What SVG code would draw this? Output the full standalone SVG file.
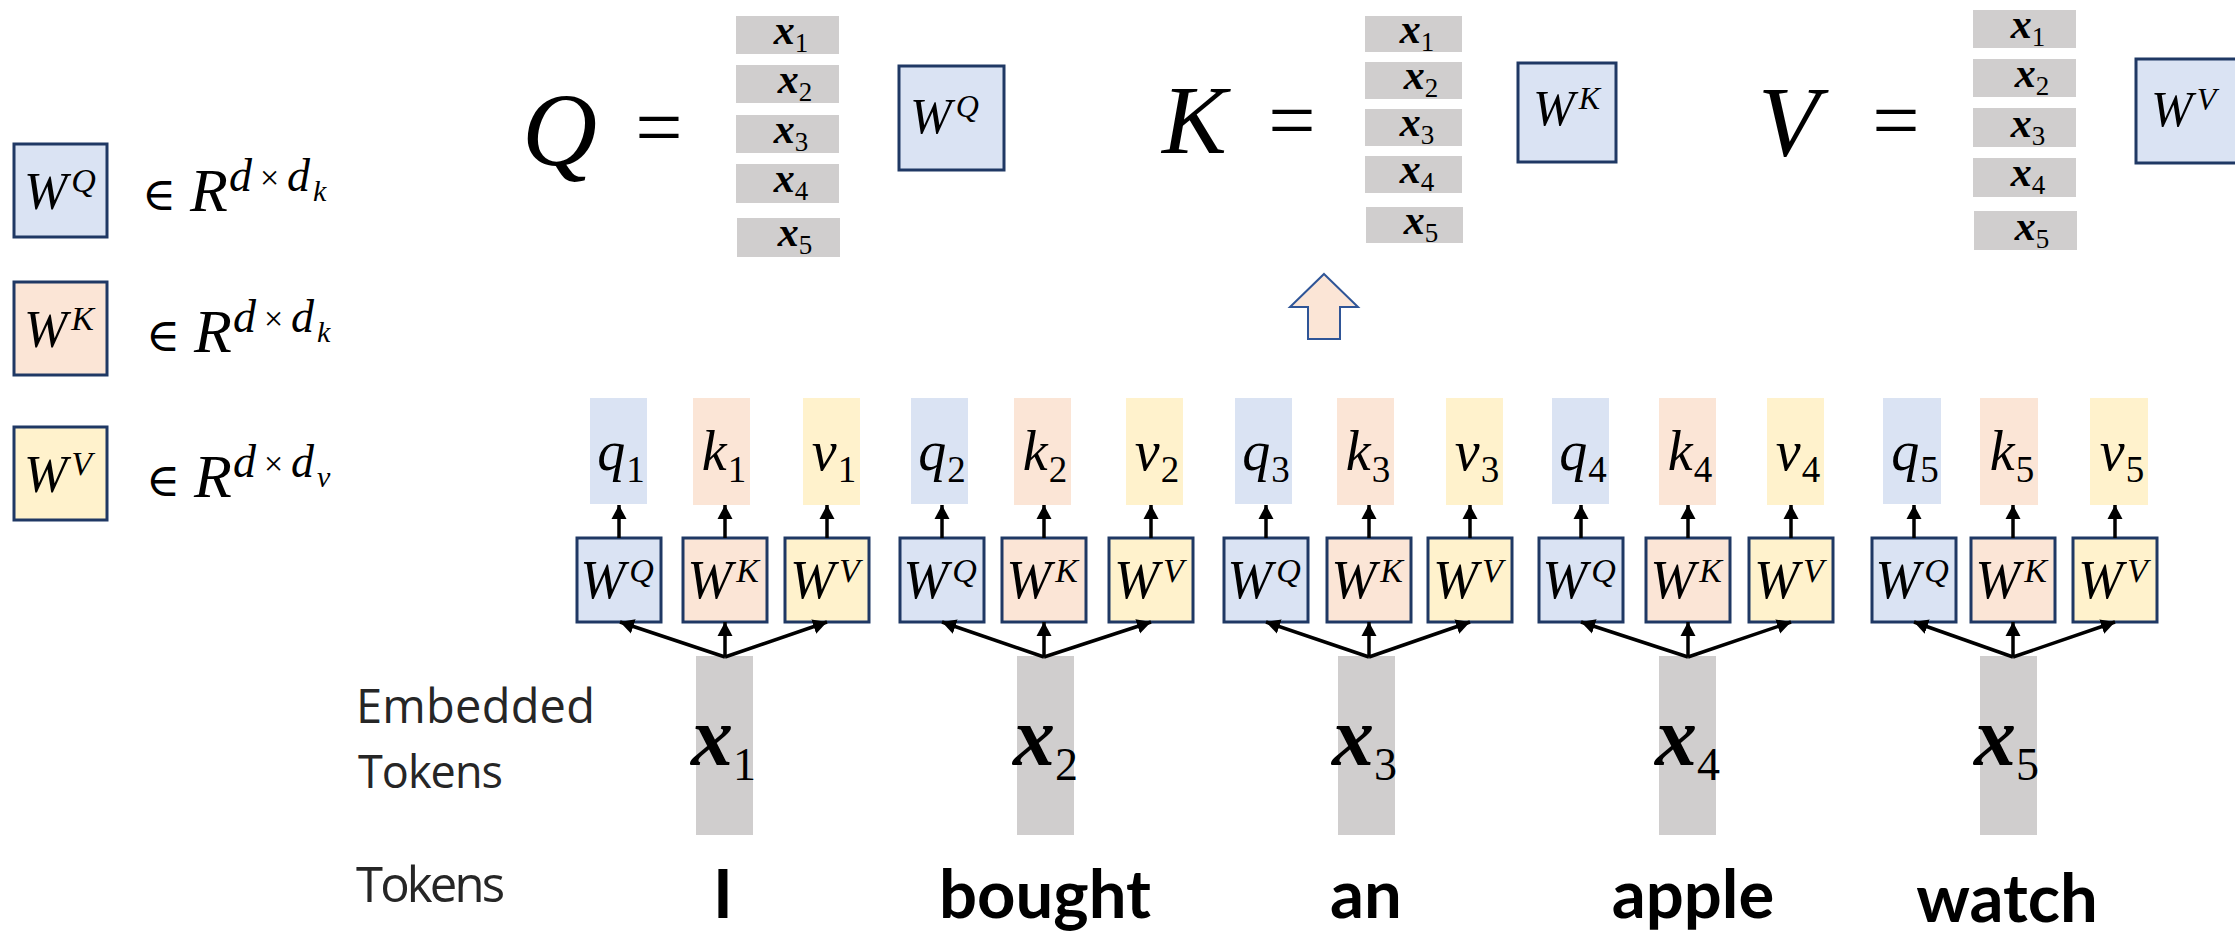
<svg xmlns="http://www.w3.org/2000/svg" width="2235" height="932" viewBox="0 0 2235 932">
<style>
.bq{fill:#DAE3F3}.bk{fill:#FBE5D6}.bv{fill:#FFF2CC}
.wb{stroke:#1F3864;stroke-width:3}
.gr{fill:#D0CECE}
.m{font-family:"Liberation Serif","DejaVu Serif",serif;font-style:italic;fill:#000}
.up{font-style:normal}
.xb{font-family:"Liberation Serif","DejaVu Serif",serif;font-style:italic;font-weight:bold;fill:#000}
.dg{font-family:"Liberation Serif","DejaVu Serif",serif;font-style:normal;font-weight:normal}
.lbl{font-family:"Open Sans","Liberation Sans",sans-serif;fill:#262626}
.tok{font-family:Lato,"Open Sans",sans-serif;font-weight:bold;fill:#000;font-size:67px;text-anchor:middle}
.sw{font-size:54px}.ss{font-size:34px}
.qkv{font-size:56px}.qs{font-size:37px}
.xs{font-size:42px}.xss{font-size:27px}
.cn{stroke:#000;stroke-width:3.5;fill:none;marker-end:url(#ah)}
</style>
<defs>
<marker id="ah" markerUnits="userSpaceOnUse" markerWidth="16" markerHeight="16" refX="14" refY="8" orient="auto"><path d="M0,0.5 L14,8 L0,15.5 z" fill="#000"/></marker>
</defs>
<rect width="2235" height="932" fill="#fff"/>

<!-- Legend -->
<g id="legend-wq">
<rect x="14" y="144" width="93" height="93" class="bq wb"/>
<text x="24" y="209" class="m" font-size="52">W<tspan font-size="34" dx="4" dy="-17">Q</tspan></text>
<text x="142" y="210" class="m up" font-size="46">∈</text>
<text x="190" y="211" class="m" font-size="62">R</text>
<text x="229" y="191" class="m" font-size="46">d</text><text x="260" y="189" class="m up" font-size="34">×</text><text x="287" y="191" class="m" font-size="46">d</text>
<text x="313" y="201" class="m" font-size="30">k</text>
</g>
<g id="legend-wk">
<rect x="14" y="282" width="93" height="93" class="bk wb"/>
<text x="24" y="347" class="m" font-size="52">W<tspan font-size="34" dx="4" dy="-17">K</tspan></text>
<text x="146" y="351" class="m up" font-size="46">∈</text>
<text x="194" y="352" class="m" font-size="62">R</text>
<text x="233" y="332" class="m" font-size="46">d</text><text x="264" y="330" class="m up" font-size="34">×</text><text x="291" y="332" class="m" font-size="46">d</text>
<text x="317" y="342" class="m" font-size="30">k</text>
</g>
<g id="legend-wv">
<rect x="14" y="427" width="93" height="93" class="bv wb"/>
<text x="24" y="492" class="m" font-size="52">W<tspan font-size="34" dx="4" dy="-17">V</tspan></text>
<text x="146" y="496" class="m up" font-size="46">∈</text>
<text x="194" y="497" class="m" font-size="62">R</text>
<text x="233" y="477" class="m" font-size="46">d</text><text x="264" y="475" class="m up" font-size="34">×</text><text x="291" y="477" class="m" font-size="46">d</text>
<text x="317" y="487" class="m" font-size="30">v</text>
</g>

<!-- Q equation -->
<g id="eq-q">
<text x="522" y="165" class="m" font-size="104">Q</text>
<text x="659" y="156" class="m up" font-size="84" text-anchor="middle">=</text>
<rect x="736" y="16" width="103" height="38" class="gr"/>
<rect x="736" y="65" width="103" height="38" class="gr"/>
<rect x="736" y="115" width="103" height="38" class="gr"/>
<rect x="736" y="164" width="103" height="39" class="gr"/>
<rect x="737" y="218" width="103" height="39" class="gr"/>
<text x="791" y="44" class="xb xs" text-anchor="middle">x<tspan class="dg xss" dy="8">1</tspan></text>
<text x="795" y="93" class="xb xs" text-anchor="middle">x<tspan class="dg xss" dy="8">2</tspan></text>
<text x="791" y="143" class="xb xs" text-anchor="middle">x<tspan class="dg xss" dy="8">3</tspan></text>
<text x="791" y="192" class="xb xs" text-anchor="middle">x<tspan class="dg xss" dy="8">4</tspan></text>
<text x="795" y="246" class="xb xs" text-anchor="middle">x<tspan class="dg xss" dy="8">5</tspan></text>
<rect x="899" y="66" width="105" height="104" class="bq wb"/>
<text x="910" y="133" class="m" font-size="50">W<tspan font-size="32" dx="4" dy="-16">Q</tspan></text>
</g>

<!-- K equation -->
<g id="eq-k">
<text x="1162" y="153" class="m" font-size="97">K</text>
<text x="1292" y="149" class="m up" font-size="84" text-anchor="middle">=</text>
<rect x="1365" y="16" width="97" height="36" class="gr"/>
<rect x="1365" y="62" width="97" height="37" class="gr"/>
<rect x="1365" y="109" width="97" height="37" class="gr"/>
<rect x="1365" y="156" width="97" height="37" class="gr"/>
<rect x="1366" y="207" width="97" height="36" class="gr"/>
<text x="1417" y="43" class="xb xs" text-anchor="middle">x<tspan class="dg xss" dy="8">1</tspan></text>
<text x="1421" y="89" class="xb xs" text-anchor="middle">x<tspan class="dg xss" dy="8">2</tspan></text>
<text x="1417" y="136" class="xb xs" text-anchor="middle">x<tspan class="dg xss" dy="8">3</tspan></text>
<text x="1417" y="183" class="xb xs" text-anchor="middle">x<tspan class="dg xss" dy="8">4</tspan></text>
<text x="1421" y="234" class="xb xs" text-anchor="middle">x<tspan class="dg xss" dy="8">5</tspan></text>
<rect x="1518" y="63" width="98" height="99" class="bq wb"/>
<text x="1533" y="125" class="m" font-size="50">W<tspan font-size="32" dx="4" dy="-16">K</tspan></text>
</g>

<!-- V equation -->
<g id="eq-v">
<text x="1758" y="155" class="m" font-size="100">V</text>
<text x="1896" y="149" class="m up" font-size="84" text-anchor="middle">=</text>
<rect x="1973" y="10" width="103" height="38" class="gr"/>
<rect x="1973" y="59" width="103" height="38" class="gr"/>
<rect x="1973" y="108" width="103" height="39" class="gr"/>
<rect x="1973" y="158" width="103" height="39" class="gr"/>
<rect x="1974" y="211" width="103" height="39" class="gr"/>
<text x="2028" y="38" class="xb xs" text-anchor="middle">x<tspan class="dg xss" dy="8">1</tspan></text>
<text x="2032" y="87" class="xb xs" text-anchor="middle">x<tspan class="dg xss" dy="8">2</tspan></text>
<text x="2028" y="137" class="xb xs" text-anchor="middle">x<tspan class="dg xss" dy="8">3</tspan></text>
<text x="2028" y="186" class="xb xs" text-anchor="middle">x<tspan class="dg xss" dy="8">4</tspan></text>
<text x="2032" y="240" class="xb xs" text-anchor="middle">x<tspan class="dg xss" dy="8">5</tspan></text>
<rect x="2136" y="59" width="120" height="104" class="bq wb"/>
<text x="2151" y="126" class="m" font-size="50">W<tspan font-size="32" dx="4" dy="-16">V</tspan></text>
</g>

<g id="up-arrow">
<path d="M1324,274 L1358,307 L1340,307 L1340,339 L1308,339 L1308,307 L1290,307 Z" fill="#FBE5D6" stroke="#2F5597" stroke-width="2"/>
</g>

<!-- Left labels -->
<g id="label-embedded">
<text x="356" y="723" class="lbl" font-size="47" textLength="239" lengthAdjust="spacing">Embedded</text>
<text x="358" y="788" class="lbl" font-size="45" textLength="145" lengthAdjust="spacing">Tokens</text>
</g>
<g id="label-tokens">
<text x="356" y="902" class="lbl" font-size="49" textLength="149" lengthAdjust="spacing">Tokens</text>
</g>

<!-- Group 1 -->
<g id="g1">
<rect x="590" y="398" width="57" height="106" class="bq"/>
<rect x="693" y="398" width="57" height="107" class="bk"/>
<rect x="803" y="398" width="57" height="107" class="bv"/>
<text x="621" y="470" class="m qkv" text-anchor="middle">q<tspan class="dg qs" dx="1" dy="12">1</tspan></text>
<text x="724" y="470" class="m qkv" text-anchor="middle">k<tspan class="dg qs" dx="1" dy="12">1</tspan></text>
<text x="834" y="470" class="m qkv" text-anchor="middle">v<tspan class="dg qs" dx="1" dy="12">1</tspan></text>
<rect x="577" y="538" width="84" height="84" class="bq wb"/>
<rect x="683" y="538" width="84" height="84" class="bk wb"/>
<rect x="785" y="538" width="84" height="84" class="bv wb"/>
<text x="617" y="598" class="m sw" text-anchor="middle">W<tspan class="ss" dx="4" dy="-16">Q</tspan></text>
<text x="723" y="598" class="m sw" text-anchor="middle">W<tspan class="ss" dx="4" dy="-16">K</tspan></text>
<text x="825" y="598" class="m sw" text-anchor="middle">W<tspan class="ss" dx="4" dy="-16">V</tspan></text>
<rect x="696" y="656" width="57" height="179" class="gr"/>
<text x="691" y="765" class="xb" font-size="84">x<tspan class="dg" font-size="46" dy="15">1</tspan></text>
<text x="723" y="918" class="tok">I</text>
</g>

<!-- Group 2 -->
<g id="g2">
<rect x="911" y="398" width="57" height="106" class="bq"/>
<rect x="1014" y="398" width="57" height="107" class="bk"/>
<rect x="1126" y="398" width="57" height="107" class="bv"/>
<text x="942" y="470" class="m qkv" text-anchor="middle">q<tspan class="dg qs" dx="1" dy="12">2</tspan></text>
<text x="1045" y="470" class="m qkv" text-anchor="middle">k<tspan class="dg qs" dx="1" dy="12">2</tspan></text>
<text x="1157" y="470" class="m qkv" text-anchor="middle">v<tspan class="dg qs" dx="1" dy="12">2</tspan></text>
<rect x="900" y="538" width="84" height="84" class="bq wb"/>
<rect x="1002" y="538" width="84" height="84" class="bk wb"/>
<rect x="1109" y="538" width="84" height="84" class="bv wb"/>
<text x="940" y="598" class="m sw" text-anchor="middle">W<tspan class="ss" dx="4" dy="-16">Q</tspan></text>
<text x="1042" y="598" class="m sw" text-anchor="middle">W<tspan class="ss" dx="4" dy="-16">K</tspan></text>
<text x="1149" y="598" class="m sw" text-anchor="middle">W<tspan class="ss" dx="4" dy="-16">V</tspan></text>
<rect x="1017" y="656" width="57" height="179" class="gr"/>
<text x="1013" y="765" class="xb" font-size="84">x<tspan class="dg" font-size="46" dy="15">2</tspan></text>
<text x="1045" y="918" class="tok">bought</text>
</g>

<!-- Group 3 -->
<g id="g3">
<rect x="1235" y="398" width="57" height="106" class="bq"/>
<rect x="1337" y="398" width="57" height="107" class="bk"/>
<rect x="1446" y="398" width="57" height="107" class="bv"/>
<text x="1266" y="470" class="m qkv" text-anchor="middle">q<tspan class="dg qs" dx="1" dy="12">3</tspan></text>
<text x="1368" y="470" class="m qkv" text-anchor="middle">k<tspan class="dg qs" dx="1" dy="12">3</tspan></text>
<text x="1477" y="470" class="m qkv" text-anchor="middle">v<tspan class="dg qs" dx="1" dy="12">3</tspan></text>
<rect x="1224" y="538" width="84" height="84" class="bq wb"/>
<rect x="1327" y="538" width="84" height="84" class="bk wb"/>
<rect x="1428" y="538" width="84" height="84" class="bv wb"/>
<text x="1264" y="598" class="m sw" text-anchor="middle">W<tspan class="ss" dx="4" dy="-16">Q</tspan></text>
<text x="1367" y="598" class="m sw" text-anchor="middle">W<tspan class="ss" dx="4" dy="-16">K</tspan></text>
<text x="1468" y="598" class="m sw" text-anchor="middle">W<tspan class="ss" dx="4" dy="-16">V</tspan></text>
<rect x="1338" y="656" width="57" height="179" class="gr"/>
<text x="1332" y="765" class="xb" font-size="84">x<tspan class="dg" font-size="46" dy="15">3</tspan></text>
<text x="1366" y="918" class="tok">an</text>
</g>

<!-- Group 4 -->
<g id="g4">
<rect x="1552" y="398" width="57" height="106" class="bq"/>
<rect x="1659" y="398" width="57" height="107" class="bk"/>
<rect x="1767" y="398" width="57" height="107" class="bv"/>
<text x="1583" y="470" class="m qkv" text-anchor="middle">q<tspan class="dg qs" dx="1" dy="12">4</tspan></text>
<text x="1690" y="470" class="m qkv" text-anchor="middle">k<tspan class="dg qs" dx="1" dy="12">4</tspan></text>
<text x="1798" y="470" class="m qkv" text-anchor="middle">v<tspan class="dg qs" dx="1" dy="12">4</tspan></text>
<rect x="1539" y="538" width="84" height="84" class="bq wb"/>
<rect x="1646" y="538" width="84" height="84" class="bk wb"/>
<rect x="1749" y="538" width="84" height="84" class="bv wb"/>
<text x="1579" y="598" class="m sw" text-anchor="middle">W<tspan class="ss" dx="4" dy="-16">Q</tspan></text>
<text x="1686" y="598" class="m sw" text-anchor="middle">W<tspan class="ss" dx="4" dy="-16">K</tspan></text>
<text x="1789" y="598" class="m sw" text-anchor="middle">W<tspan class="ss" dx="4" dy="-16">V</tspan></text>
<rect x="1659" y="656" width="57" height="179" class="gr"/>
<text x="1655" y="765" class="xb" font-size="84">x<tspan class="dg" font-size="46" dy="15">4</tspan></text>
<text x="1693" y="918" class="tok">apple</text>
</g>

<!-- Group 5 -->
<g id="g5">
<rect x="1883" y="398" width="58" height="106" class="bq"/>
<rect x="1980" y="398" width="58" height="107" class="bk"/>
<rect x="2090" y="398" width="58" height="107" class="bv"/>
<text x="1915" y="470" class="m qkv" text-anchor="middle">q<tspan class="dg qs" dx="1" dy="12">5</tspan></text>
<text x="2012" y="470" class="m qkv" text-anchor="middle">k<tspan class="dg qs" dx="1" dy="12">5</tspan></text>
<text x="2122" y="470" class="m qkv" text-anchor="middle">v<tspan class="dg qs" dx="1" dy="12">5</tspan></text>
<rect x="1872" y="538" width="84" height="84" class="bq wb"/>
<rect x="1971" y="538" width="84" height="84" class="bk wb"/>
<rect x="2073" y="538" width="84" height="84" class="bv wb"/>
<text x="1912" y="598" class="m sw" text-anchor="middle">W<tspan class="ss" dx="4" dy="-16">Q</tspan></text>
<text x="2011" y="598" class="m sw" text-anchor="middle">W<tspan class="ss" dx="4" dy="-16">K</tspan></text>
<text x="2113" y="598" class="m sw" text-anchor="middle">W<tspan class="ss" dx="4" dy="-16">V</tspan></text>
<rect x="1980" y="656" width="57" height="179" class="gr"/>
<text x="1974" y="765" class="xb" font-size="84">x<tspan class="dg" font-size="46" dy="15">5</tspan></text>
<text x="2007" y="922" class="tok">watch</text>
</g>

<!-- Connectors -->
<g id="connectors">
<path class="cn" d="M619,538 V505"/><path class="cn" d="M725,538 V505"/><path class="cn" d="M827,538 V505"/>
<path class="cn" d="M725,657 L620,622"/><path class="cn" d="M725,657 V622"/><path class="cn" d="M725,657 L827,622"/>
<path class="cn" d="M942,538 V505"/><path class="cn" d="M1044,538 V505"/><path class="cn" d="M1151,538 V505"/>
<path class="cn" d="M1044,657 L942,622"/><path class="cn" d="M1044,657 V622"/><path class="cn" d="M1044,657 L1151,622"/>
<path class="cn" d="M1266,538 V505"/><path class="cn" d="M1369,538 V505"/><path class="cn" d="M1470,538 V505"/>
<path class="cn" d="M1369,657 L1266,622"/><path class="cn" d="M1369,657 V622"/><path class="cn" d="M1369,657 L1470,622"/>
<path class="cn" d="M1581,538 V505"/><path class="cn" d="M1688,538 V505"/><path class="cn" d="M1791,538 V505"/>
<path class="cn" d="M1688,657 L1581,622"/><path class="cn" d="M1688,657 V622"/><path class="cn" d="M1688,657 L1791,622"/>
<path class="cn" d="M1914,538 V505"/><path class="cn" d="M2013,538 V505"/><path class="cn" d="M2115,538 V505"/>
<path class="cn" d="M2013,657 L1914,622"/><path class="cn" d="M2013,657 V622"/><path class="cn" d="M2013,657 L2115,622"/>
</g>
</svg>
